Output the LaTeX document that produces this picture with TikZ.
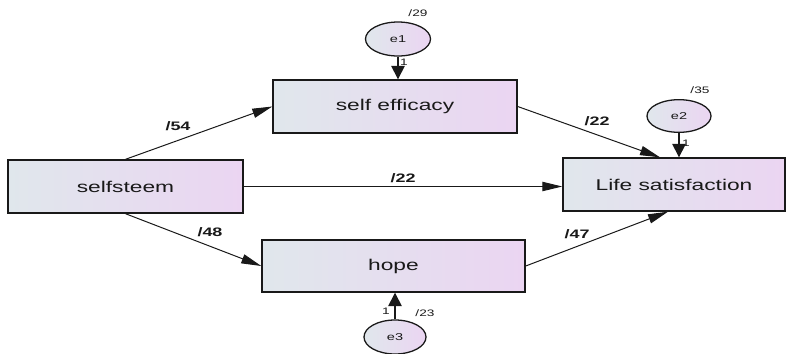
\documentclass[tikz,border=0pt]{standalone}
\usepackage{fontspec}
\setmainfont{Liberation Sans}
\newfontfamily\widesans[FakeStretch=1.46]{Liberation Sans}
\usepackage{xcolor}
\usetikzlibrary{arrows.meta,positioning,calc,shapes.geometric}
\definecolor{boxleft}{RGB}{224,231,236}
\definecolor{boxright}{RGB}{235,213,242}
\definecolor{inkgray}{RGB}{25,25,25}

\begin{document}
\begin{tikzpicture}[x=0.03cm,y=-0.03cm,
    varbox/.style={draw=inkgray,line width=1.2pt,left color=boxleft,right color=boxright,
        text=inkgray,font=\widesans\fontsize{13.3}{15}\selectfont,minimum height=1.59cm,inner sep=0pt},
    errnode/.style={ellipse,draw=inkgray,line width=1.1pt,left color=boxleft,right color=boxright,
        text=inkgray,font=\widesans\fontsize{8.5}{10}\selectfont,minimum width=1.95cm,minimum height=1.02cm,inner sep=0pt},
    path/.style={draw=inkgray,line width=0.85pt,-{Triangle[length=0.6cm,width=0.28cm]}},
    errpath/.style={draw=inkgray,line width=1.3pt,-{Triangle[length=0.4cm,width=0.4cm]}},
    coef/.style={text=inkgray,font=\widesans\bfseries\fontsize{10.5}{12}\selectfont,inner sep=0pt},
    small/.style={text=inkgray,font=\widesans\fontsize{8}{9}\selectfont,inner sep=0pt}]

    \useasboundingbox (0,0) rectangle (787,353);

    % Observed variables
    \node[varbox,minimum width=7.05cm] (esteem) at (125.5,186.5) {selfsteem};
    \node[varbox,minimum width=7.32cm] (efficacy) at (395,106.5) {self efficacy};
    \node[varbox,minimum width=7.89cm,minimum height=1.56cm] (hope) at (393.5,266) {hope};
    \node[varbox,minimum width=6.66cm] (life) at (674,184.5) {Life satisfaction};

    % Error terms
    \node[errnode] (e1) at (398,39) {e1};
    \node[errnode,minimum width=1.92cm,minimum height=0.98cm] (e2) at (679,116) {e2};
    \node[errnode,minimum width=1.86cm] (e3) at (395,337) {e3};

    % Paths between variables
    \draw[path] (esteem.north) -- (efficacy.west);
    \draw[path] (esteem.south) -- (hope.west);
    \draw[path] (esteem.east) -- (esteem.east -| life.west);
    \draw[path] (efficacy.east) -- ([xshift=-0.42cm]life.north);
    \draw[path] (hope.east) -- ([xshift=-0.18cm]life.south);

    % Paths from error terms
    \draw[errpath] (e1.south) -- (e1.south |- efficacy.north);
    \draw[errpath] (e2.south) -- (e2.south |- life.north);
    \draw[errpath] (e3.north) -- (e3.north |- hope.south);

    % Coefficients
    \node[coef] (c54) at (178,126) {/54};
    \node[coef] (c48) at (210,232) {/48};
    \node[coef] (c22a) at (403,178) {/22};
    \node[coef] (c22b) at (597,121) {/22};
    \node[coef] (c47) at (577,234) {/47};

    % Variances and fixed weights
    \node[small] (v1) at (418,13) {/29};
    \node[small] (v2) at (700,90) {/35};
    \node[small] (v3) at (425,313) {/23};
    \node[small] (w1) at (404,62) {1};
    \node[small] (w2) at (686,143) {1};
    \node[small] (w3) at (386,311) {1};

\end{tikzpicture}
\end{document}
